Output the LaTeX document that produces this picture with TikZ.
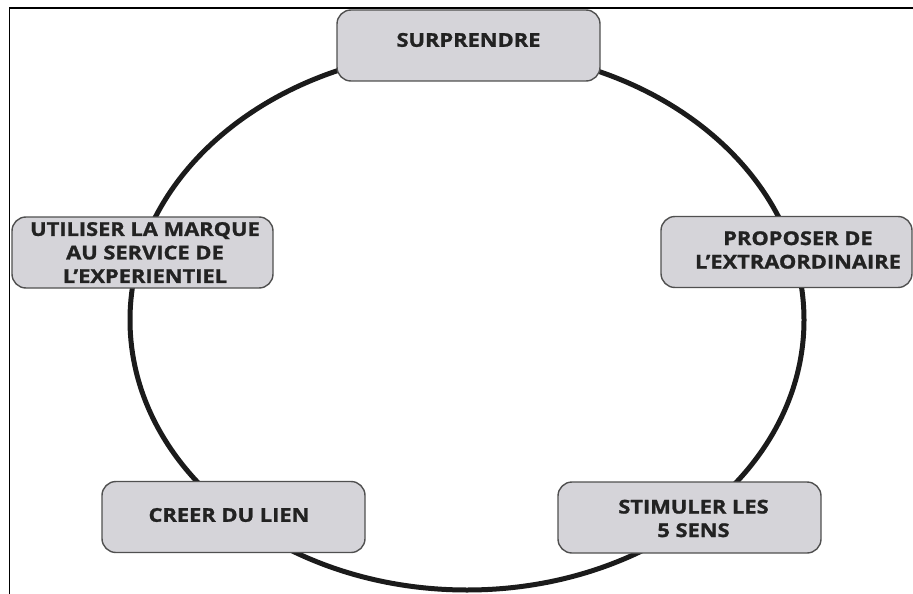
\documentclass[tikz,border=0pt]{standalone}
\usepackage{fontspec}
\newfontfamily\boxfont{Open Sans}[FakeStretch=1.15,FakeBold=1.2]
\definecolor{ringcol}{RGB}{27,27,27}
\definecolor{boxfill}{RGB}{213,212,217}
\definecolor{boxline}{RGB}{80,80,80}
\definecolor{boxtext}{RGB}{34,34,34}
\tikzset{
  etape/.style={draw=boxline,fill=boxfill,rounded corners=14pt,line width=1.4pt,minimum height=71pt},
  etiq/.style={font=\boxfont\bfseries\fontsize{19}{23.5}\selectfont,align=center,text=boxtext,inner sep=0pt}
}

\begin{document}
\begin{tikzpicture}[x=1pt,y=-1pt]
\useasboundingbox (0,0) rectangle (913,594);
% frame, left and top only
\draw[line width=1.5pt] (9.5,594) |- (913,8);
% the cycle behind the boxes
\draw[ringcol,line width=5pt] (467,320) ellipse [x radius=337pt, y radius=270pt];

\node[etape,minimum width=263pt] (sur) at (468.5,45.5) {};
\node[etape,minimum width=261pt] (uti) at (142.5,252.5) {};
\node[etape,minimum width=251pt] (pro) at (786.5,252) {};
\node[etape,minimum width=263pt] (cre) at (233.5,517) {};
\node[etape,minimum width=263pt] (sti) at (689.5,517.5) {};

\node[etiq] (sur-t) at ([yshift=5.5pt]sur.center) {SURPRENDRE};
\node[etiq] (uti-t) at ([xshift=2.5pt]uti.center) {UTILISER LA MARQUE\\AU SERVICE DE\\L’EXPERIENTIEL};
\node[etiq] (pro-t) at ([xshift=11.5pt,yshift=2pt]pro.center) {PROPOSER DE\\L’EXTRAORDINAIRE};
\node[etiq] (cre-t) at ([xshift=-4.5pt,yshift=2pt]cre.center) {CREER DU LIEN};
\node[etiq] (sti-t) at ([xshift=4pt,yshift=-1pt]sti.center) {STIMULER LES\\5 SENS};
\end{tikzpicture}
\end{document}
